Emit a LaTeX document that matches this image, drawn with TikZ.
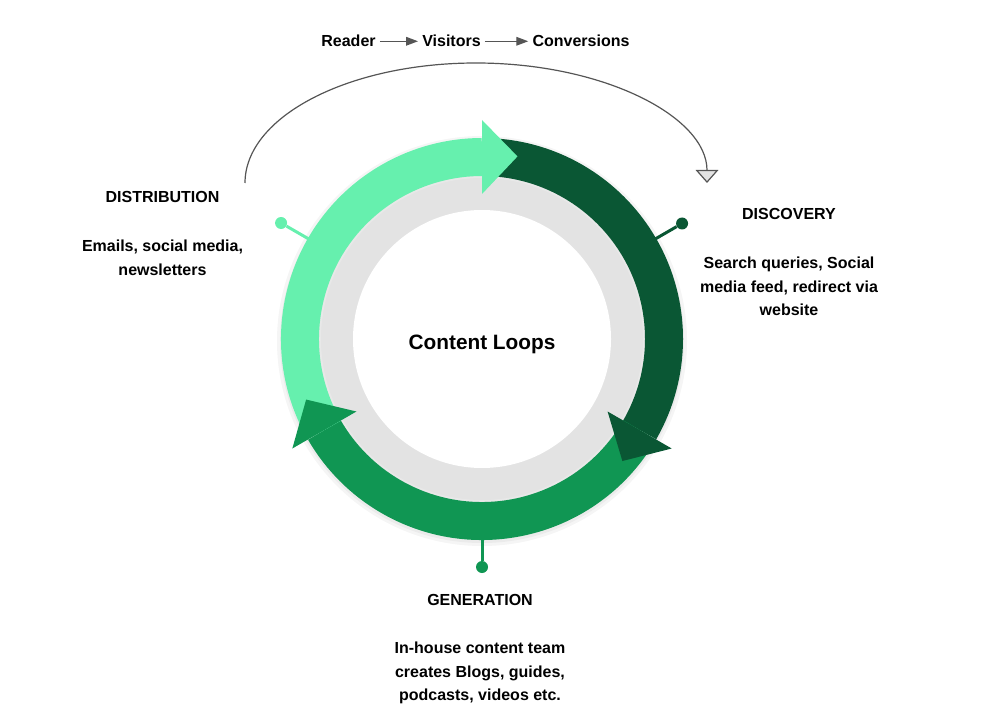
\documentclass[tikz,border=0pt]{standalone}
\usepackage{fontspec}
\setmainfont{Liberation Sans}
\usepackage{xcolor}
\usepackage{tikz}
\usetikzlibrary{positioning,arrows.meta,calc}
\definecolor{mint}{HTML}{66F0AE}
\definecolor{forest}{HTML}{0A5734}
\definecolor{jade}{HTML}{109653}
\definecolor{ringgray}{HTML}{E3E3E3}
\definecolor{flowgray}{HTML}{555555}
\tikzset{
  hd/.style={font=\bfseries\fontsize{12}{14}\selectfont, anchor=base, inner sep=0pt},
  txt/.style={font=\bfseries\fontsize{12}{17.6}\selectfont, align=center, inner sep=0pt},
  flow/.style={draw=flowgray, line width=1pt, -{Triangle[length=9pt, width=6.5pt]}},
  backarc/.style={draw=flowgray, line width=0.9pt, -{Triangle[length=9.75pt, width=17pt, fill=ringgray]}},
  band/.style={line width=28.5pt},
  stem/.style={line width=2.25pt},
  knob/.style={circle, inner sep=0pt, minimum size=9pt},
}
\begin{document}
\begin{tikzpicture}[x=0.75pt, y=0.75pt]
\useasboundingbox (0,0) rectangle (984,722);
\coordinate (c) at (482,383);
\fill[black!4] ($(c)+(0,-2)$) circle[radius=205];
\fill[black!8] ($(c)+(0,-2)$) circle[radius=202];
\fill[ringgray] (c) circle[radius=163];
\draw[black!9, line width=1.5pt] (c) circle[radius=162];
\fill[white] (c) circle[radius=129];
\foreach \col/\a/\b in {forest/90/-30, jade/-30/-150, mint/210/90}
  \draw[band, \col] ($(c)+(\a:182)$) arc[start angle=\a, end angle=\b, radius=182];
\foreach \col/\a in {forest/-30, jade/210, mint/90}
  \fill[\col] ($(c)+(\a:145)$) -- ($(c)+(\a:219)$) -- ($(c)+(\a-11:186)$) -- cycle;
\node[hd, font=\bfseries\fontsize{15.6}{18}\selectfont] (title) at (482,373) {Content Loops};
\foreach \n/\col/\a/\r in {dist/mint/150/232, disc/forest/30/231, gen/jade/270/228} {
  \coordinate (\n pin) at ($(c)+(\a:200)$);
  \node[knob, fill=\col] (\n dot) at ($(c)+(\a:\r)$) {};
  \draw[stem, \col] (\n pin) -- (\n dot);
}
\node[hd, inner sep=3pt] (reader) at (348.5,675) {Reader};
\node[hd, inner sep=3pt] (visitors) at (451.5,675) {Visitors};
\node[hd, inner sep=3pt] (conv) at (581,675) {Conversions};
\draw[flow] (reader.east) -- (visitors.west);
\draw[flow] (visitors.east) -- (conv.west);
\coordinate (arcstart) at (245,539);
\draw[backarc] (arcstart) arc[start angle=180, end angle=0, x radius=231, y radius=120];
\node[hd] (disthd) at (162.5,519) {DISTRIBUTION};
\node[txt, below=27.5pt of disthd] (disttxt) {Emails, social media,\\newsletters};
\node[hd] (dischd) at (789,502) {DISCOVERY};
\node[txt, below=27.5pt of dischd] (disctxt) {Search queries, Social\\media feed, redirect via\\website};
\node[hd] (genhd) at (480,117) {GENERATION};
\node[txt, below=27.5pt of genhd] (gentxt) {In-house content team\\creates Blogs, guides,\\podcasts, videos etc.};
\end{tikzpicture}
\end{document}
